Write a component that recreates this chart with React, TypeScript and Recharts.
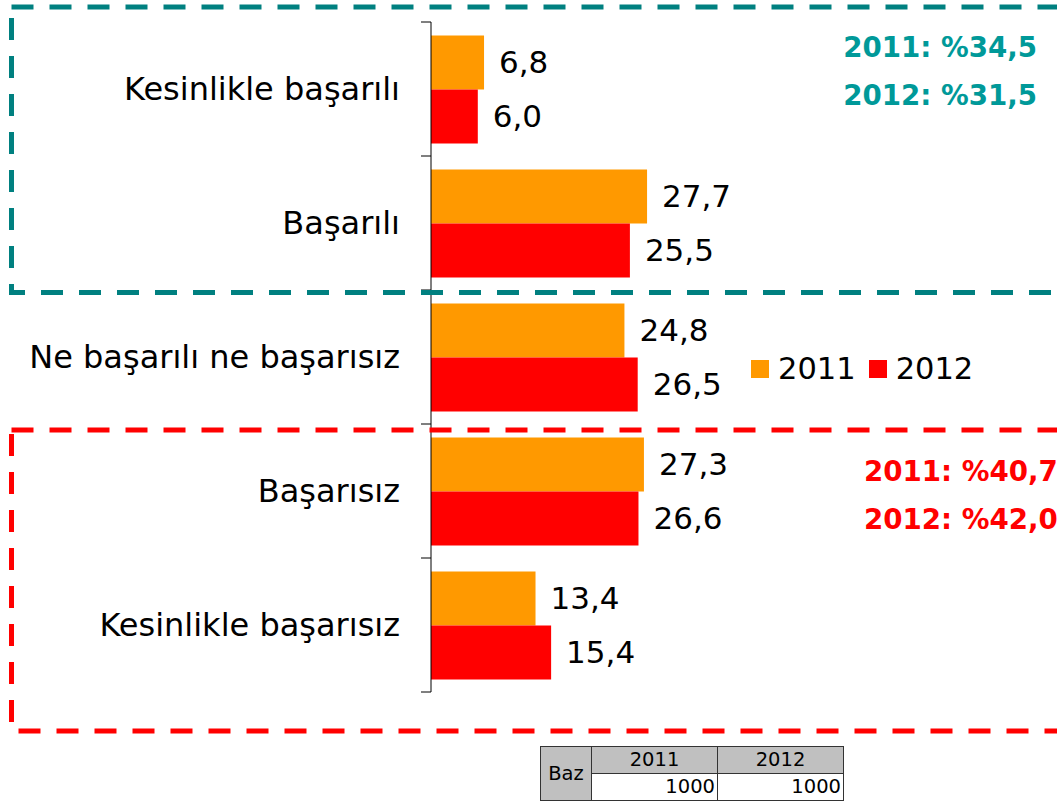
import { BarChart, Bar, XAxis, YAxis, LabelList, Legend } from "recharts"

const categories = [
  "Kesinlikle başarılı",
  "Başarılı",
  "Ne başarılı ne başarısız",
  "Başarısız",
  "Kesinlikle başarısız",
]
const values2011 = [6.8, 27.7, 24.8, 27.3, 13.4]
const values2012 = [6.0, 25.5, 26.5, 26.6, 15.4]
const seriesNames = ["2011", "2012"]
const positiveTotals = ["2011: %34,5", "2012: %31,5"]
const negativeTotals = ["2011: %40,7", "2012: %42,0"]
const baseYears = ["2011", "2012"]
const baseCounts = [1000, 1000]

const ORANGE = "#FF9900"
const RED = "#FF0000"
const TEAL_LINE = "#008080"
const TEAL_TEXT = "#009999"
const FONT = "'DejaVu Sans', Verdana, sans-serif"

const chartData = categories.map((name, i) => ({
  name,
  y2011: values2011[i],
  y2012: values2012[i],
}))

const fmt = (v: any) => Number(v).toFixed(1).replace(".", ",")

// category label plus small boundary ticks between bands
function CategoryTick(props: any) {
  const { x, y, payload, index, visibleTicksCount } = props
  const half = payload?.offset || 67
  const isLast = index === visibleTicksCount - 1
  return (
    <g>
      <line x1={x + 21} x2={x + 31} y1={y - half} y2={y - half} stroke="#000" />
      {isLast && <line x1={x + 21} x2={x + 31} y1={y + half} y2={y + half} stroke="#000" />}
      <text
        x={x}
        y={y}
        textAnchor="end"
        dominantBaseline="central"
        fontFamily={FONT}
        fontSize={32}
        fill="#000"
      >
        {payload.value}
      </text>
    </g>
  )
}

function LegendBox(props: any) {
  const items = props.payload || []
  return (
    <div style={{ display: "flex", alignItems: "center", fontFamily: FONT, fontSize: 30.5 }}>
      {items.map((it: any, i: number) => (
        <div key={i} style={{ display: "flex", alignItems: "center", marginRight: 13 }}>
          <div style={{ width: 18, height: 18, background: it.color, marginRight: 9 }} />
          <span style={{ color: "#000", lineHeight: "36px" }}>{it.value}</span>
        </div>
      ))}
    </div>
  )
}

export default function App() {
  const cell: React.CSSProperties = {
    border: "1px solid #333",
    padding: "0 2px",
    fontFamily: FONT,
    fontSize: 19.5,
    lineHeight: "26px",
  }
  return (
    <div style={{ position: "absolute", left: 0, top: 0, width: 1057, height: 801, background: "#fff", overflow: "hidden" }}>
      <BarChart
        width={1057}
        height={801}
        data={chartData}
        layout="vertical"
        margin={{ top: 22, right: 2, bottom: 109, left: 0 }}
        barCategoryGap="10%"
        barGap={0}
      >
        <XAxis type="number" domain={[0, 80]} hide />
        <YAxis
          type="category"
          dataKey="name"
          width={431}
          axisLine={{ stroke: "#000" }}
          tickLine={false}
          tickSize={10}
          tickMargin={21}
          tick={<CategoryTick />}
          interval={0}
        />
        <Legend
          layout="horizontal"
          verticalAlign="middle"
          align="center"
          content={<LegendBox />}
          wrapperStyle={{ position: "absolute", left: 751, top: 351, width: 300 }}
        />
        <Bar dataKey="y2011" name={seriesNames[0]} fill={ORANGE} isAnimationActive={false}>
          <LabelList
            dataKey="y2011"
            position="right"
            offset={15}
            formatter={fmt}
            fill="#000"
            fontSize={31}
            fontFamily={FONT}
          />
        </Bar>
        <Bar dataKey="y2012" name={seriesNames[1]} fill={RED} isAnimationActive={false}>
          <LabelList
            dataKey="y2012"
            position="right"
            offset={15}
            formatter={fmt}
            fill="#000"
            fontSize={31}
            fontFamily={FONT}
          />
        </Bar>
      </BarChart>

      <svg
        width={1057}
        height={801}
        style={{ position: "absolute", left: 0, top: 0, pointerEvents: "none" }}
      >
        <rect x={11.5} y={7} width={1080} height={285.5} fill="none" stroke={TEAL_LINE} strokeWidth={5} strokeDasharray="22 16" />
        <rect x={11.5} y={430} width={1080} height={301} fill="none" stroke={RED} strokeWidth={5} strokeDasharray="22 16" />
        {positiveTotals.map((t, i) => (
          <text key={t} x={1037} y={57 + i * 48} textAnchor="end" fontFamily={FONT} fontWeight="bold" fontSize={27.7} fill={TEAL_TEXT}>
            {t}
          </text>
        ))}
        {negativeTotals.map((t, i) => (
          <text key={t} x={864} y={481 + i * 48} textAnchor="start" fontFamily={FONT} fontWeight="bold" fontSize={27.7} fill={RED}>
            {t}
          </text>
        ))}
      </svg>

      <table
        style={{
          position: "absolute",
          left: 540,
          top: 746,
          borderCollapse: "collapse",
          color: "#000",
        }}
      >
        <tbody>
          <tr>
            <td rowSpan={2} style={{ ...cell, background: "#C0C0C0", width: 46, textAlign: "center" }}>Baz</td>
            {baseYears.map((y) => (
              <td key={y} style={{ ...cell, background: "#C0C0C0", width: 121, textAlign: "center" }}>{y}</td>
            ))}
          </tr>
          <tr>
            {baseCounts.map((c, i) => (
              <td key={i} style={{ ...cell, background: "#fff", textAlign: "right" }}>{c}</td>
            ))}
          </tr>
        </tbody>
      </table>
    </div>
  )
}
